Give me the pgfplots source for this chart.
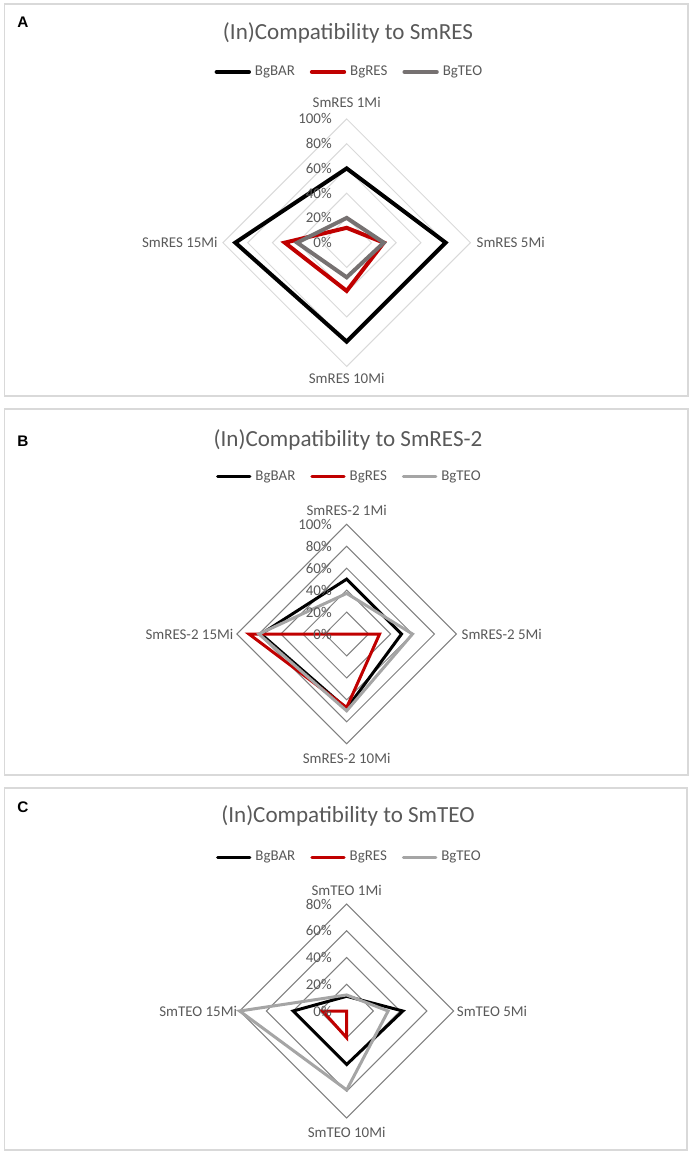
\documentclass[border=0pt]{standalone}
\usepackage{fontspec}
\setmainfont{Carlito}
\newfontfamily\panelfont{Liberation Sans}
\usepackage{pgfplots}
\pgfplotsset{compat=1.18}
\definecolor{txtgray}{HTML}{595959}
\definecolor{gridA}{HTML}{D9D9D9}
\definecolor{gridB}{HTML}{7F7F7F}
\definecolor{boxgray}{HTML}{D9D9D9}
\definecolor{resred}{HTML}{C00000}
\definecolor{teoA}{HTML}{767171}
\definecolor{teoB}{HTML}{A5A5A5}
\newcommand{\smallfont}{\fontsize{11.2}{13.4}\selectfont}
\newcommand{\titlefont}{\fontsize{17.3}{20.8}\selectfont}
\newcommand{\letterfont}{\panelfont\bfseries\fontsize{11.5}{14}\selectfont}
\tikzset{
  tick/.style={anchor=east, inner sep=0pt, xshift=-11pt, font=\smallfont, text=txtgray},
  cat/.style={inner sep=0pt, font=\smallfont, text=txtgray},
}
\pgfplotsset{
  radar/.style={
    scale only axis, hide axis, clip=false, anchor=center,
    legend columns=3,
    legend image code/.code={\draw[##1, line cap=round] (1pt,0pt) -- (25.25pt,0pt);},
    legend style={draw=none, fill=none, font=\smallfont, text=txtgray, inner sep=0pt, anchor=center,
       nodes={inner sep=0pt},
       /tikz/every odd column/.append style={column sep=3pt},
       /tikz/every even column/.append style={column sep=11.25pt}},
  },
}
\begin{document}
\begin{tikzpicture}
\path[use as bounding box] (0pt,0pt) rectangle (520.5pt,-866.25pt);
% frames
\draw[boxgray, line width=1.1pt] (3.4pt,-3pt) rectangle (516pt,-297pt);
\draw[boxgray, line width=1.1pt] (3.4pt,-306.75pt) rectangle (516pt,-581.25pt);
\draw[boxgray, line width=1.1pt] (3.4pt,-591pt) rectangle (515.3pt,-862.5pt);
% panel letters
\node[font=\letterfont, inner sep=0pt] at (17.25pt,-16.5pt) {A};
\node[font=\letterfont, inner sep=0pt] at (17.25pt,-331pt) {B};
\node[font=\letterfont, inner sep=0pt] at (17.25pt,-605.25pt) {C};
% titles
\node[font=\titlefont, text=txtgray] at (261pt,-24.75pt) {(In)Compatibility to SmRES};
\node[font=\titlefont, text=txtgray] at (261pt,-330pt) {(In)Compatibility to SmRES-2};
\node[font=\titlefont, text=txtgray] at (261pt,-612pt) {(In)Compatibility to SmTEO};

% ---------------- Panel A
\begin{axis}[radar, at={(260pt,-182pt)}, width=185.6pt, height=185.6pt,
  xmin=-100, xmax=100, ymin=-100, ymax=100,
  legend style={at={(0.507,1.190)}}]
\addplot[gridA, line width=0.75pt, line join=miter, forget plot] coordinates {(0,20) (20,0) (0,-20) (-20,0)} -- cycle;
\addplot[gridA, line width=0.75pt, line join=miter, forget plot] coordinates {(0,40) (40,0) (0,-40) (-40,0)} -- cycle;
\addplot[gridA, line width=0.75pt, line join=miter, forget plot] coordinates {(0,60) (60,0) (0,-60) (-60,0)} -- cycle;
\addplot[gridA, line width=0.75pt, line join=miter, forget plot] coordinates {(0,80) (80,0) (0,-80) (-80,0)} -- cycle;
\addplot[gridA, line width=0.75pt, line join=miter, forget plot] coordinates {(0,100) (100,0) (0,-100) (-100,0)} -- cycle;
\addplot[black, line width=3pt, line join=miter] coordinates {(0,60) (80,0) (0,-80) (-90,0)} -- cycle;
\addlegendentry{BgBAR}
\addplot[resred, line width=3pt, line join=miter] coordinates {(0,12) (30,0) (0,-39) (-50,0)} -- cycle;
\addlegendentry{BgRES}
\addplot[teoA, line width=3pt, line join=miter] coordinates {(0,20) (30,0) (0,-28) (-40,0)} -- cycle;
\addlegendentry{BgTEO}
\node[tick] at (axis cs:0,0) {0\%};
\node[tick] at (axis cs:0,20) {20\%};
\node[tick] at (axis cs:0,40) {40\%};
\node[tick] at (axis cs:0,60) {60\%};
\node[tick] at (axis cs:0,80) {80\%};
\node[tick] at (axis cs:0,100) {100\%};
\node[cat, yshift=12.2pt] at (axis cs:0,100) {SmRES 1Mi};
\node[cat, anchor=west, xshift=4.5pt] at (axis cs:100,0) {SmRES 5Mi};
\node[cat, yshift=-9pt] at (axis cs:0,-100) {SmRES 10Mi};
\node[cat, anchor=east, xshift=-3.75pt] at (axis cs:-100,0) {SmRES 15Mi};
\end{axis}

% ---------------- Panel B
\begin{axis}[radar, at={(260pt,-475.5pt)}, width=164.6pt, height=164.6pt,
  xmin=-100, xmax=100, ymin=-100, ymax=100,
  legend style={at={(0.508,1.2156)}}]
\addplot[gridB, line width=0.75pt, line join=miter, forget plot] coordinates {(0,20) (20,0) (0,-20) (-20,0)} -- cycle;
\addplot[gridB, line width=0.75pt, line join=miter, forget plot] coordinates {(0,40) (40,0) (0,-40) (-40,0)} -- cycle;
\addplot[gridB, line width=0.75pt, line join=miter, forget plot] coordinates {(0,60) (60,0) (0,-60) (-60,0)} -- cycle;
\addplot[gridB, line width=0.75pt, line join=miter, forget plot] coordinates {(0,80) (80,0) (0,-80) (-80,0)} -- cycle;
\addplot[gridB, line width=0.75pt, line join=miter, forget plot] coordinates {(0,100) (100,0) (0,-100) (-100,0)} -- cycle;
\addplot[black, line width=2.25pt, line join=miter] coordinates {(0,50) (50,0) (0,-68) (-78,0)} -- cycle;
\addlegendentry{BgBAR}
\addplot[resred, line width=2.25pt, line join=miter] coordinates {(0,0) (30,0) (0,-67) (-89,0)} -- cycle;
\addlegendentry{BgRES}
\addplot[teoB, line width=2.25pt, line join=miter] coordinates {(0,37) (60,0) (0,-70) (-80,0)} -- cycle;
\addlegendentry{BgTEO}
\node[tick] at (axis cs:0,0) {0\%};
\node[tick] at (axis cs:0,20) {20\%};
\node[tick] at (axis cs:0,40) {40\%};
\node[tick] at (axis cs:0,60) {60\%};
\node[tick] at (axis cs:0,80) {80\%};
\node[tick] at (axis cs:0,100) {100\%};
\node[cat, yshift=10.5pt] at (axis cs:0,100) {SmRES-2 1Mi};
\node[cat, anchor=west, xshift=3.75pt] at (axis cs:100,0) {SmRES-2 5Mi};
\node[cat, yshift=-11.25pt] at (axis cs:0,-100) {SmRES-2 10Mi};
\node[cat, anchor=east, xshift=-2.5pt] at (axis cs:-100,0) {SmRES-2 15Mi};
\end{axis}

% ---------------- Panel C
\begin{axis}[radar, at={(260pt,-758.25pt)}, width=160.5pt, height=160.5pt,
  xmin=-80, xmax=80, ymin=-80, ymax=80,
  legend style={at={(0.508,1.2196)}}]
\addplot[gridB, line width=0.75pt, line join=miter, forget plot] coordinates {(0,20) (20,0) (0,-20) (-20,0)} -- cycle;
\addplot[gridB, line width=0.75pt, line join=miter, forget plot] coordinates {(0,40) (40,0) (0,-40) (-40,0)} -- cycle;
\addplot[gridB, line width=0.75pt, line join=miter, forget plot] coordinates {(0,60) (60,0) (0,-60) (-60,0)} -- cycle;
\addplot[gridB, line width=0.75pt, line join=miter, forget plot] coordinates {(0,80) (80,0) (0,-80) (-80,0)} -- cycle;
\addplot[black, line width=2.25pt, line join=miter] coordinates {(0,11) (42,0) (0,-40) (-40,0)} -- cycle;
\addlegendentry{BgBAR}
\addplot[resred, line width=2.25pt, line join=miter] coordinates {(0,0) (0,0) (0,-20) (-18,0)} -- cycle;
\addlegendentry{BgRES}
\addplot[teoB, line width=2.25pt, line join=miter] coordinates {(0,12) (31,0) (0,-59) (-80,0)} -- cycle;
\addlegendentry{BgTEO}
\node[tick] at (axis cs:0,0) {0\%};
\node[tick] at (axis cs:0,20) {20\%};
\node[tick] at (axis cs:0,40) {40\%};
\node[tick] at (axis cs:0,60) {60\%};
\node[tick] at (axis cs:0,80) {80\%};
\node[cat, yshift=10.5pt] at (axis cs:0,80) {SmTEO 1Mi};
\node[cat, anchor=west, xshift=2.25pt] at (axis cs:80,0) {SmTEO 5Mi};
\node[cat, yshift=-10.5pt] at (axis cs:0,-80) {SmTEO 10Mi};
\node[cat, anchor=east, xshift=-1.8pt] at (axis cs:-80,0) {SmTEO 15Mi};
\end{axis}
\end{tikzpicture}
\end{document}
